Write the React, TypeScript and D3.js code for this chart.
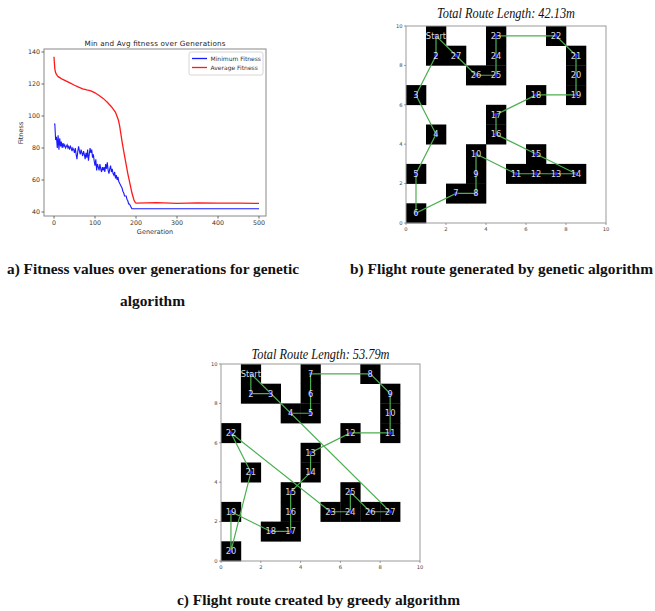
import React from "react";
import * as d3 from "d3";

// ---- panel a: fitness over generations ----
const minGens = [0, 2, 4, 6, 8, 10, 12, 14, 16, 18, 20, 22, 24, 26, 28, 30, 32, 34, 36, 38, 40, 42, 44, 46, 48, 50,
  52, 54, 56, 58, 60, 62, 64, 66, 68, 70, 72, 74, 76, 78, 80, 82, 84, 86, 88, 90, 92, 94, 96, 98, 100,
  102, 104, 106, 108, 110, 112, 114, 116, 118, 120, 122, 124, 126, 128, 130, 132, 134, 136, 138, 140,
  142, 144, 146, 148, 150, 152, 154, 156, 158, 160, 162, 164, 166, 168, 170, 172, 174, 176, 178, 180,
  182, 184, 186, 188, 190, 200, 300, 400, 500];
const minFitness = [95, 95, 85, 87, 80, 88, 79, 86, 81, 84, 80, 83, 81, 82, 80, 81, 82, 80, 81, 79, 81, 80, 78, 80, 79, 77,
  80, 76, 73, 78, 81, 78, 76, 79, 77, 75, 78, 76, 73, 77, 74, 79, 72, 76, 80, 77, 79, 74, 76, 72, 69,
  73, 66, 70, 68, 66, 70, 67, 65, 68, 66, 68, 65, 70, 67, 71, 66, 64, 67, 69, 65,
  67, 64, 63, 65, 61, 63, 60, 62, 59, 58, 57, 56, 55, 53, 52, 50, 50, 50, 48, 47,
  45, 45, 44, 43, 42, 42, 42, 42, 42];

const avgGens = [0, 1, 2, 4, 6, 8, 10, 15, 20, 30, 40, 50, 60, 70, 80, 90, 100, 110, 120, 130, 140, 150, 157,
  160, 163, 166, 170, 175, 180, 185, 190, 195, 198, 200, 250, 300, 350, 400, 450, 500];
const avgFitness = [137, 133, 129.5, 127, 126, 125.2, 124.6, 123.8, 123, 121.8, 120.5, 119.2, 118, 117, 116.3, 115.7, 114.5,
  112.8, 111, 108.6, 105.8, 102.3, 97.5, 94, 89, 84, 78, 71, 64, 58, 52, 47.5, 46, 45.6, 45.8, 45.4, 45.7, 45.5, 45.6, 45.4];

const genTicks = [0, 100, 200, 300, 400, 500];
const fitTicks = [40, 60, 80, 100, 120, 140];

// ---- panels b and c: routes on the grid, listed in visiting order ----
const gaLabels = ["Start", "2", "3", "4", "5", "6", "7", "8", "9", "10", "11", "12", "13", "14", "15", "16", "17",
  "18", "19", "20", "21", "22", "23", "24", "25", "26", "27"];
const gaX = [1.5, 1.5, 0.5, 1.5, 0.5, 0.5, 2.5, 3.5, 3.5, 3.5, 5.5, 6.5, 7.5, 8.5, 6.5, 4.5, 4.5,
  6.5, 8.5, 8.5, 8.5, 7.5, 4.5, 4.5, 4.5, 3.5, 2.5];
const gaY = [9.5, 8.5, 6.5, 4.5, 2.5, 0.5, 1.5, 1.5, 2.5, 3.5, 2.5, 2.5, 2.5, 2.5, 3.5, 4.5, 5.5,
  6.5, 6.5, 7.5, 8.5, 9.5, 9.5, 8.5, 7.5, 7.5, 8.5];

const greedyLabels = gaLabels;
const greedyX = [1.5, 1.5, 2.5, 3.5, 4.5, 4.5, 4.5, 7.5, 8.5, 8.5, 8.5, 6.5, 4.5, 4.5, 3.5, 3.5, 3.5,
  2.5, 0.5, 0.5, 1.5, 0.5, 5.5, 6.5, 6.5, 7.5, 8.5];
const greedyY = [9.5, 8.5, 8.5, 7.5, 7.5, 8.5, 9.5, 9.5, 8.5, 7.5, 6.5, 6.5, 5.5, 4.5, 3.5, 2.5, 1.5,
  1.5, 2.5, 0.5, 4.5, 6.5, 2.5, 2.5, 3.5, 2.5, 2.5];

const gridTicks = [0, 2, 4, 6, 8, 10];

const SANS = "DejaVu Sans, sans-serif";
const SERIF = "Liberation Serif, Times New Roman, serif";

function FitnessChart() {
  const x = d3.scaleLinear().domain([0, 500]).range([54, 259]);
  const y = d3.scaleLinear().domain([40, 140]).range([212, 52]);
  const left = 44, right = 266, top = 49, bottom = 216;

  const minLine = d3.line<number>().x((d, i) => x(minGens[i])).y(d => y(d))(minFitness);
  const avgLine = d3.line<number>().x((d, i) => x(avgGens[i])).y(d => y(d))(avgFitness);

  return (
    <g>
      <text x={155} y={46} fontSize={7.2} fontFamily={SANS} textAnchor="middle" fill="#222" textLength={141}>
        Min and Avg fitness over Generations
      </text>
      <path d={avgLine!} fill="none" stroke="#ff1a1a" strokeWidth={1.3} />
      <path d={minLine!} fill="none" stroke="#1a1aff" strokeWidth={1.1} />
      <rect x={left} y={top} width={right - left} height={bottom - top} fill="none" stroke="#888" strokeWidth={1} />
      {genTicks.map(t => (
        <g key={"gx" + t}>
          <line x1={x(t)} x2={x(t)} y1={bottom} y2={bottom + 2.5} stroke="#666" />
          <text x={x(t)} y={224.5} fontSize={6.3} fontFamily={SANS} textAnchor="middle" fill="#333">{t}</text>
        </g>
      ))}
      {fitTicks.map(t => (
        <g key={"gy" + t}>
          <line x1={left - 2.5} x2={left} y1={y(t)} y2={y(t)} stroke="#666" />
          <text x={40} y={y(t) + 2.2} fontSize={6.3} fontFamily={SANS} textAnchor="end" fill="#333">{t}</text>
        </g>
      ))}
      <text x={155} y={234} fontSize={6.5} fontFamily={SANS} textAnchor="middle" fill="#333">Generation</text>
      <text transform="translate(23,133) rotate(-90)" fontSize={6.5} fontFamily={SANS} textAnchor="middle" fill="#333">Fitness</text>
      <rect x={189} y={52} width={74} height={23} rx={2} fill="#fff" stroke="#ccc" strokeWidth={0.8} />
      <line x1={192} x2={207} y1={58.5} y2={58.5} stroke="#1a1aff" strokeWidth={1.3} />
      <line x1={192} x2={207} y1={67.5} y2={67.5} stroke="#ff1a1a" strokeWidth={1.3} />
      <text x={210.5} y={60.8} fontSize={6} fontFamily={SANS} fill="#333">Minimum Fitness</text>
      <text x={210.5} y={69.8} fontSize={6} fontFamily={SANS} fill="#333">Average Fitness</text>
    </g>
  );
}

type RouteProps = {
  labels: string[];
  xs: number[];
  ys: number[];
  x0: number; x1: number; y0: number; y1: number;
  title: string;
  titleY: number;
  titleLen: number;
};

function RouteChart({ labels, xs, ys, x0, x1, y0, y1, title, titleY, titleLen }: RouteProps) {
  const x = d3.scaleLinear().domain([0, 10]).range([x0, x1]);
  const y = d3.scaleLinear().domain([0, 10]).range([y0, y1]);
  const pts = xs.map((v, i) => [x(v), y(ys[i])] as [number, number]);
  const route = d3.line().curve(d3.curveLinearClosed)(pts);

  return (
    <g>
      <text x={(x0 + x1) / 2} y={titleY} fontSize={14} fontStyle="italic" fontFamily={SERIF} textAnchor="middle"
        fill="#111" textLength={titleLen} lengthAdjust="spacingAndGlyphs">{title}</text>
      {xs.map((v, i) => (
        <rect key={"c" + i} x={x(Math.floor(v))} y={y(Math.floor(ys[i]) + 1)}
          width={x(1) - x(0) + 0.3} height={y(0) - y(1) + 0.3} fill="#000" />
      ))}
      <rect x={x0} y={y1} width={x1 - x0} height={y0 - y1} fill="none" stroke="#999" strokeWidth={1} />
      <path d={route!} fill="none" stroke="#4caf50" strokeWidth={1.2} />
      {pts.map((p, i) => (
        <circle key={"d" + i} cx={p[0]} cy={p[1]} r={1.8} fill="#2b2bff" />
      ))}
      {pts.map((p, i) => (
        <text key={"l" + i} x={p[0]} y={p[1] + 3} fontSize={8.3} fontFamily={SANS} textAnchor="middle"
          fill="#fff" fillOpacity={0.85}>{labels[i]}</text>
      ))}
      {gridTicks.map(t => (
        <g key={"tx" + t}>
          <line x1={x(t)} x2={x(t)} y1={y0} y2={y0 + 2} stroke="#777" strokeWidth={0.7} />
          <text x={x(t)} y={y0 + 8} fontSize={5.2} fontFamily={SANS} textAnchor="middle" fill="#444">{t}</text>
        </g>
      ))}
      {gridTicks.map(t => (
        <g key={"ty" + t}>
          <line x1={x0 - 2} x2={x0} y1={y(t)} y2={y(t)} stroke="#777" strokeWidth={0.7} />
          <text x={x0 - 3.5} y={y(t) + 1.8} fontSize={5.2} fontFamily={SANS} textAnchor="end" fill="#444">{t}</text>
        </g>
      ))}
    </g>
  );
}

export default function App() {
  const cap = { fontFamily: SERIF, fontWeight: 700, fontSize: 14.5, fill: "#111" } as const;
  return (
    <svg width={655} height={611} style={{ position: "absolute", left: 0, top: 0, background: "#fff" }}>
      <rect width={655} height={611} fill="#fff" />
      <FitnessChart />
      <RouteChart labels={gaLabels} xs={gaX} ys={gaY} x0={406} x1={606} y0={223} y1={26}
        title="Total Route Length: 42.13m" titleY={17.5} titleLen={138} />
      <RouteChart labels={greedyLabels} xs={greedyX} ys={greedyY} x0={221} x1={420} y0={561} y1={364}
        title="Total Route Length: 53.79m" titleY={359} titleLen={138} />
      <text x={7} y={274} {...cap} textLength={292} lengthAdjust="spacingAndGlyphs">a) Fitness values over generations for genetic</text>
      <text x={120} y={306} {...cap} textLength={65} lengthAdjust="spacingAndGlyphs">algorithm</text>
      <text x={350} y={274} {...cap} textLength={303} lengthAdjust="spacingAndGlyphs">b) Flight route generated by genetic algorithm</text>
      <text x={177} y={605} {...cap} textLength={283} lengthAdjust="spacingAndGlyphs">c) Flight route created by greedy algorithm</text>
    </svg>
  );
}
